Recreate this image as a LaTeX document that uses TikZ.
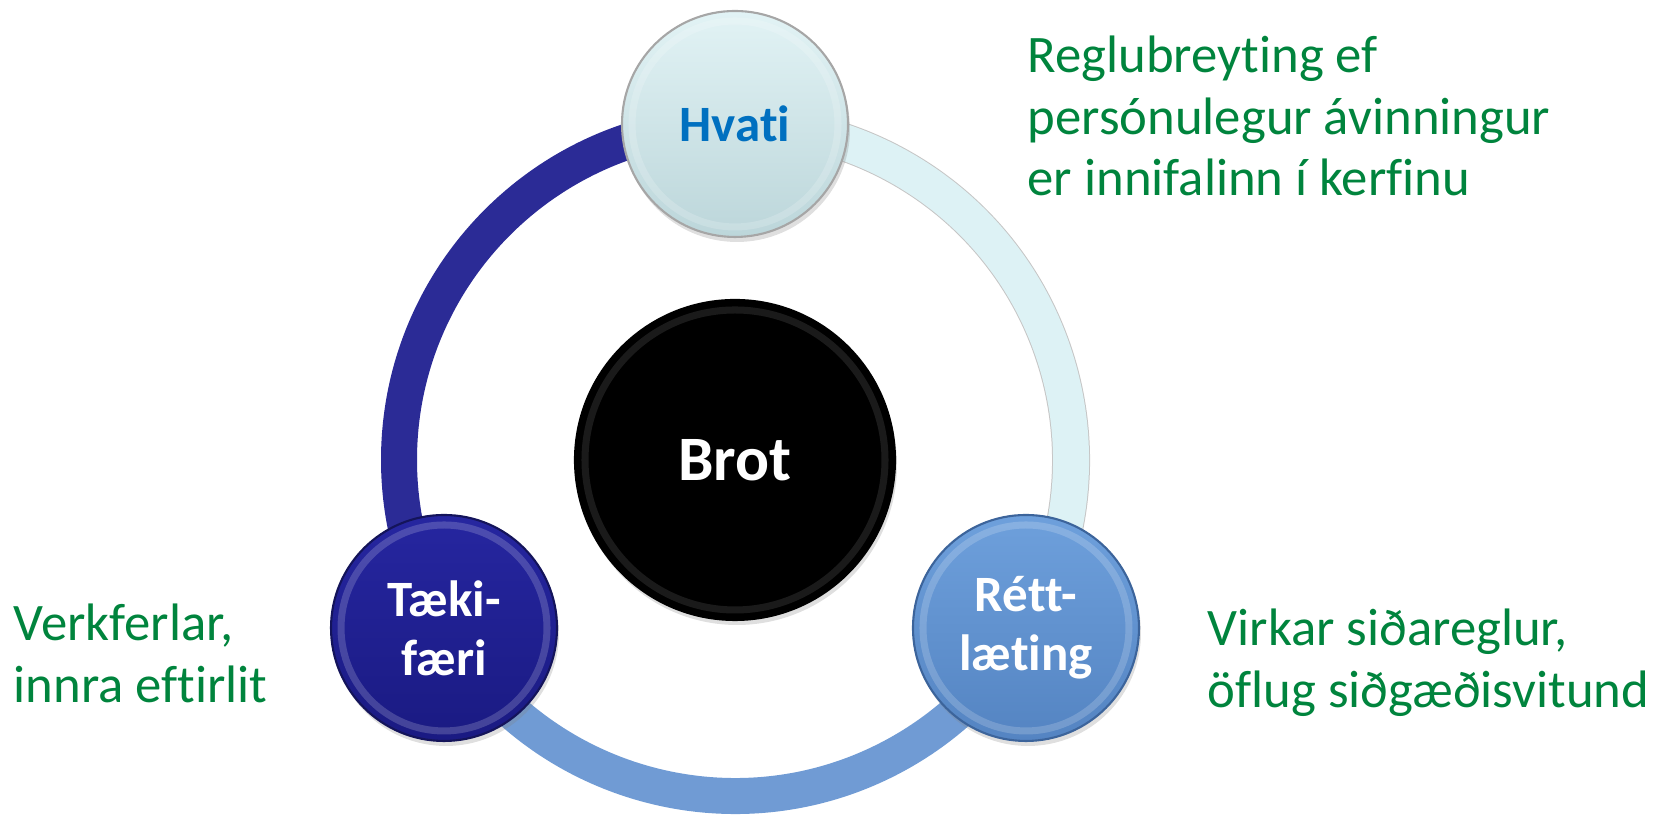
\documentclass[tikz,border=0pt]{standalone}
\usepackage{fontspec}
\setmainfont[Ligatures=NoCommon]{Carlito}
\usepackage{tikz}
\usetikzlibrary{calc,shadows,backgrounds}
\definecolor{note green}{RGB}{0,132,61}
\definecolor{hvati blue}{RGB}{0,112,192}
\definecolor{navy ring}{RGB}{43,43,150}
\definecolor{steel ring}{RGB}{112,155,212}
\definecolor{pale ring}{RGB}{221,242,245}
\tikzset{
    ring/.style={line width=0.36cm},
    disc/.style={circle,minimum size=2.26cm,inner sep=0pt,line width=0.6pt,align=center,
        font=\fontsize{14.5}{16.7}\selectfont\bfseries,
        drop shadow={opacity=.25,shadow xshift=.02,shadow yshift=-.05}},
    hvati disc/.style={disc,top color={rgb,255:red,226;green,243;blue,245},bottom color={rgb,255:red,188;green,214;blue,218},draw=gray!70,text=hvati blue},
    taeki disc/.style={disc,top color={rgb,255:red,38;green,38;blue,160},bottom color={rgb,255:red,26;green,26;blue,130},draw={rgb,255:red,20;green,20;blue,90},text=white},
    rett disc/.style={disc,top color={rgb,255:red,110;green,160;blue,220},bottom color={rgb,255:red,84;green,132;blue,194},draw={rgb,255:red,60;green,100;blue,155},text=white},
    note/.style={note green,align=left,anchor=north west,inner sep=0pt,
        font=\fontsize{15}{17.6}\selectfont},
}

\begin{document}
\begin{tikzpicture}
    \useasboundingbox (0,0) rectangle (16.70,8.15);
    \coordinate (hub) at (7.35,3.55);
    % the four circles
    \node[disc,fill=black,draw=black,minimum size=3.2cm,text=white,
        font=\fontsize{18}{20}\selectfont\bfseries] (brot) at (hub) {Brot};
    \node[hvati disc] (hvati) at ([shift={(90:3.36)}]hub) {Hvati};
    \node[taeki disc] (taeki) at ([shift={(210:3.36)}]hub) {Tæki-\\færi};
    \node[rett disc] (rett) at ([shift={(330:3.36)}]hub) {Rétt-\\læting};
    \foreach \n in {hvati,taeki,rett}
        \draw[white,opacity=.18,line width=2pt] (\n.center) circle (1.03);
    \draw[white,opacity=.1,line width=2pt] (brot.center) circle (1.5);
    % ring behind the circles
    \begin{pgfonlayer}{background}
        \draw[ring,navy ring] (hvati.center) arc (90:210:3.36);
        \draw[ring,steel ring] (taeki.center) arc (210:330:3.36);
        \draw[ring,line width=0.38cm,gray!45] (rett.center) arc (-30:90:3.36);
        \draw[ring,pale ring] (rett.center) arc (-30:90:3.36);
    \end{pgfonlayer}
    % notes
    \node[note] (regla) at (10.27,7.80) {Reglubreyting ef\\persónulegur ávinningur\\er innifalinn í kerfinu};
    \node[note] (sidir) at (12.07,2.07) {Virkar siðareglur,\\öflug siðgæðisvitund};
    \node[note] (ferlar) at (0.13,2.12) {Verkferlar,\\innra eftirlit};
\end{tikzpicture}
\end{document}
